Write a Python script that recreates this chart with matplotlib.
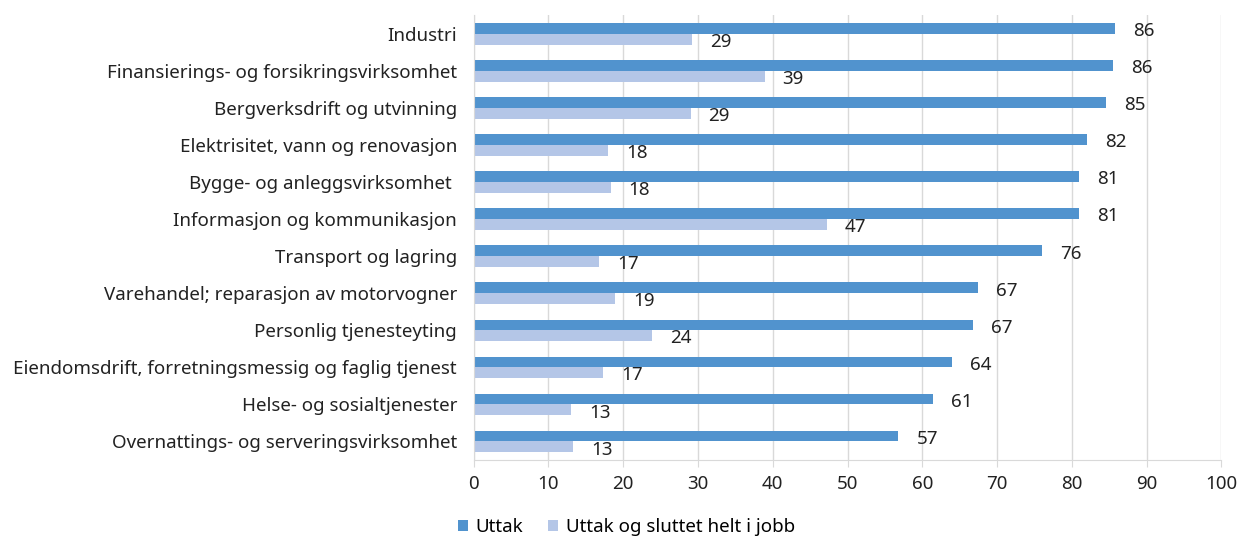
import matplotlib.pyplot as plt
import numpy as np

plt.rcParams['font.family'] = ['Noto Sans', 'DejaVu Sans']

naeringer = ['Industri',
             'Finansierings- og forsikringsvirksomhet',
             'Bergverksdrift og utvinning',
             'Elektrisitet, vann og renovasjon',
             'Bygge- og anleggsvirksomhet ',
             'Informasjon og kommunikasjon',
             'Transport og lagring',
             'Varehandel; reparasjon av motorvogner',
             'Personlig tjenesteyting',
             'Eiendomsdrift, forretningsmessig og faglig tjenest',
             'Helse- og sosialtjenester',
             'Overnattings- og serveringsvirksomhet']
uttak = [85.8, 85.5, 84.6, 82.0, 81.0, 81.0, 76.0, 67.4, 66.8, 64.0, 61.4, 56.8]
uttak_sluttet = [29.2, 38.9, 29.0, 18.0, 18.3, 47.2, 16.8, 18.9, 23.9, 17.3, 13.0, 13.3]

dark = '#5193CE'
light = '#B4C6E7'
h = 0.29
fs = 13.5

fig = plt.figure(figsize=(12.4, 5.45), dpi=100)
ax = fig.add_axes([0.382, 0.156, 0.603, 0.816])

y = np.arange(len(naeringer))
ax.barh(y - h / 2, uttak, height=h, color=dark, label='Uttak', zorder=2)
ax.barh(y + h / 2, uttak_sluttet, height=h, color=light, label='Uttak og sluttet helt i jobb', zorder=2)

for yi, v in zip(y, uttak):
    ax.annotate(f'{v:.0f}', (v, yi - h / 2), xytext=(13, -2), textcoords='offset points',
                va='center', ha='left', fontsize=fs, color='#222222')
for yi, v in zip(y, uttak_sluttet):
    ax.annotate(f'{v:.0f}', (v, yi + h / 2), xytext=(13, -2), textcoords='offset points',
                va='center', ha='left', fontsize=fs, color='#222222')

ax.set_xlim(0, 100)
ax.set_ylim(len(naeringer) - 0.5, -0.5)
ax.set_xticks(np.arange(0, 101, 10))
ax.set_yticks(y, naeringer)
ax.grid(axis='x', color='#D9D9D9', linewidth=1, zorder=0)
for s in ['top', 'right']:
    ax.spines[s].set_visible(False)
ax.spines['left'].set_color('#D9D9D9')
ax.spines['bottom'].set_color('#D9D9D9')
ax.tick_params(axis='y', length=0, pad=12, labelsize=fs, labelcolor='#222222')
ax.tick_params(axis='x', length=5, color='#D9D9D9', labelsize=fs, labelcolor='#222222', pad=6)

fig.legend(loc='lower center', bbox_to_anchor=(0.505, -0.015), ncol=2, frameon=False,
           fontsize=fs, handlelength=0.55, handleheight=0.55, handletextpad=0.4, columnspacing=1.3)

plt.savefig('out.png')
